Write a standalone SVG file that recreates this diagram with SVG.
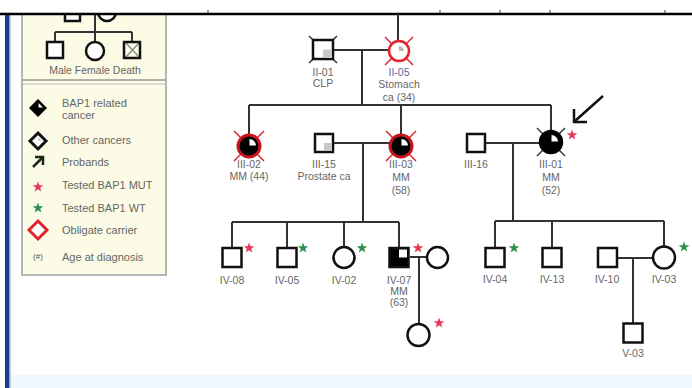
<svg xmlns="http://www.w3.org/2000/svg" xmlns:xlink="http://www.w3.org/1999/xlink" width="692" height="388" viewBox="0 0 692 388">
<style>
.ln{stroke:#333;stroke-width:2;fill:none}
.sym{stroke:#111;stroke-width:2.5;fill:#fff}
.dx{stroke:#333;stroke-width:1.5}
.dr{stroke:#d8202a;stroke-width:1.5}
.lbl{font-family:"Liberation Sans",Arial,sans-serif;font-size:10.5px;fill:#666;text-anchor:middle}
.leg{font-family:"Liberation Sans",Arial,sans-serif;font-size:11px;fill:#666}
.red{fill:#e8375a}
.grn{fill:#2f8f4f}
</style>
<defs>
<polygon id="star" points="0,-5.5 1.35,-1.86 5.23,-1.7 2.19,0.71 3.23,4.45 0,2.3 -3.23,4.45 -2.19,0.71 -5.23,-1.7 -1.35,-1.86"/>
</defs>
<rect width="692" height="388" fill="#fff"/>
<rect x="9" y="375" width="683" height="13" fill="#eef9fd"/>
<rect x="5" y="14" width="4" height="374" fill="#1c3c8c"/>
<rect x="9" y="14" width="1.5" height="374" fill="#8aa4d0"/>

<g id="legend">
  <rect x="22" y="13" width="144" height="262" fill="#fbfbe6" stroke="#a0a0a0" stroke-width="1.5"/>
  <line x1="22" y1="80" x2="166" y2="80" stroke="#999" stroke-width="1.5"/>
  <line x1="22" y1="84" x2="166" y2="84" stroke="#bbb" stroke-width="1"/>
  <rect x="65" y="4" width="15" height="17" class="sym"/>
  <circle cx="107" cy="12" r="9" class="sym"/>
  <line x1="95" y1="13" x2="95" y2="32" class="ln"/>
  <line x1="55" y1="32" x2="132" y2="32" class="ln"/>
  <line x1="55" y1="32" x2="55" y2="42" class="ln"/>
  <line x1="95" y1="32" x2="95" y2="42" class="ln"/>
  <line x1="132" y1="32" x2="132" y2="42" class="ln"/>
  <rect x="47" y="42" width="16" height="16" class="sym"/>
  <circle cx="95" cy="51" r="9" class="sym"/>
  <line x1="125" y1="42" x2="140" y2="58" stroke="#888" stroke-width="1.2"/>
  <line x1="140" y1="42" x2="125" y2="58" stroke="#888" stroke-width="1.2"/>
  <rect x="124" y="42" width="16" height="16" fill="none" stroke="#111" stroke-width="2.5"/>
  <text x="95" y="74" class="lbl">Male Female Death</text>
  <polygon points="38,99 47,108 38,117 29,108" fill="#000"/>
  <polygon points="38.5,103 43,107.5 38.5,107.5" fill="#fff"/>
  <text x="62" y="107" class="leg">BAP1 related</text>
  <text x="62" y="119" class="leg">cancer</text>
  <polygon points="38,133 46,141 38,149 30,141" fill="#fff" stroke="#111" stroke-width="3"/>
  <polygon points="38,137 42,141 38,141" fill="#ccc"/>
  <text x="62" y="144" class="leg">Other cancers</text>
  <line x1="33" y1="167" x2="43" y2="157" stroke="#1a2a1a" stroke-width="2.5"/>
  <polyline points="35,157 43,157 43,165" fill="none" stroke="#1a2a1a" stroke-width="2.5"/>
  <text x="62" y="166" class="leg">Probands</text>
  <use xlink:href="#star" href="#star" x="38" y="187" class="red"/>
  <text x="62" y="189" class="leg">Tested BAP1 MUT</text>
  <use xlink:href="#star" href="#star" x="38" y="208" class="grn"/>
  <text x="62" y="212" class="leg">Tested BAP1 WT</text>
  <polygon points="38,221 47,230 38,239 29,230" fill="#fff" stroke="#e0242a" stroke-width="3"/>
  <text x="62" y="234" class="leg">Obligate carrier</text>
  <text x="38" y="259" font-family="Liberation Sans, Arial, sans-serif" font-size="8" fill="#555" text-anchor="middle">(#)</text>
  <text x="62" y="261" class="leg">Age at diagnosis</text>
</g>

<rect x="0" y="0" width="692" height="13" fill="#fff"/>
<line x1="0" y1="14" x2="692" y2="14" stroke="#000" stroke-width="2.5"/>
<g stroke="#555" stroke-width="1.2">
  <line x1="208" y1="10" x2="208" y2="13"/>
  <line x1="440" y1="10" x2="440" y2="13"/>
  <line x1="500" y1="10" x2="500" y2="13"/>
  <line x1="550" y1="10" x2="550" y2="13"/>
  <line x1="665" y1="10" x2="665" y2="13"/>
</g>

<g id="connectors" class="ln">
  <line x1="398" y1="14" x2="398" y2="41"/>
  <line x1="333" y1="50" x2="389" y2="50"/>
  <line x1="362" y1="50" x2="362" y2="105"/>
  <line x1="249" y1="105" x2="551" y2="105"/>
  <line x1="249" y1="105" x2="249" y2="135"/>
  <line x1="401" y1="105" x2="401" y2="135"/>
  <line x1="551" y1="105" x2="551" y2="131"/>
  <line x1="333" y1="143" x2="390" y2="143"/>
  <line x1="363" y1="143" x2="363" y2="222"/>
  <line x1="232" y1="222" x2="399" y2="222"/>
  <line x1="232" y1="222" x2="232" y2="248"/>
  <line x1="287" y1="222" x2="287" y2="248"/>
  <line x1="344" y1="222" x2="344" y2="247"/>
  <line x1="399" y1="222" x2="399" y2="248"/>
  <line x1="410" y1="257" x2="427" y2="257"/>
  <line x1="419" y1="257" x2="419" y2="324"/>
  <line x1="485" y1="143" x2="540" y2="143"/>
  <line x1="513" y1="143" x2="513" y2="221"/>
  <line x1="495" y1="221" x2="664" y2="221"/>
  <line x1="495" y1="221" x2="495" y2="248"/>
  <line x1="552" y1="221" x2="552" y2="248"/>
  <line x1="664" y1="221" x2="664" y2="246"/>
  <line x1="617" y1="258" x2="653" y2="258"/>
  <line x1="633" y1="258" x2="633" y2="323"/>
  <line x1="603" y1="96" x2="575" y2="121" stroke="#111" stroke-width="2.5"/>
  <polyline points="574,109 574,122 587,122" stroke="#111" stroke-width="2.5"/>
</g>

<g id="II-01">
  <line x1="309" y1="36" x2="337" y2="63" class="dx"/>
  <line x1="337" y1="36" x2="309" y2="63" class="dx"/>
  <rect x="313" y="40" width="20" height="19" class="sym"/>
  <rect x="323" y="49.5" width="9" height="8.5" fill="#c8c8c8"/>
  <text x="323" y="76" class="lbl">II-01</text>
  <text x="323" y="87" class="lbl">CLP</text>
</g>
<g id="II-05">
  <line x1="385" y1="37" x2="413" y2="65" class="dr"/>
  <line x1="413" y1="37" x2="385" y2="65" class="dr"/>
  <circle cx="399" cy="51" r="10" fill="#fff" stroke="#e0242a" stroke-width="2.5"/>
  <path d="M399,51 L399,46 A5,5 0 0 1 404,51 Z" fill="#bbb"/>
  <text x="399" y="76" class="lbl" style="fill:#5a6a9a">II-05</text>
  <text x="399" y="88" class="lbl">Stomach</text>
  <text x="399" y="101" class="lbl">ca (34)</text>
</g>

<g id="III-02">
  <line x1="234" y1="131" x2="264" y2="161" class="dr"/>
  <line x1="264" y1="131" x2="234" y2="161" class="dr"/>
  <circle cx="249" cy="146" r="11" fill="#000" stroke="#c8141c" stroke-width="3"/>
  <path d="M249.5,145.5 L249.5,139 A6.5,6.5 0 0 1 256,145.5 Z" fill="#fff"/>
  <text x="249" y="168" class="lbl">III-02</text>
  <text x="249" y="180" class="lbl">MM (44)</text>
</g>
<g id="III-15">
  <rect x="315" y="134" width="18" height="18" class="sym"/>
  <rect x="324" y="143" width="8" height="8" fill="#c8c8c8"/>
  <text x="324" y="168" class="lbl">III-15</text>
  <text x="324" y="180" class="lbl">Prostate ca</text>
</g>
<g id="III-03">
  <line x1="386" y1="131" x2="416" y2="161" class="dr"/>
  <line x1="416" y1="131" x2="386" y2="161" class="dr"/>
  <circle cx="401" cy="146" r="11" fill="#000" stroke="#c8141c" stroke-width="3"/>
  <path d="M401.5,145.5 L401.5,139 A6.5,6.5 0 0 1 408,145.5 Z" fill="#fff"/>
  <text x="401" y="168" class="lbl">III-03</text>
  <text x="401" y="181" class="lbl">MM</text>
  <text x="401" y="194" class="lbl">(58)</text>
</g>
<g id="III-16">
  <rect x="467" y="134" width="18" height="18" class="sym"/>
  <text x="476" y="168" class="lbl">III-16</text>
</g>
<g id="III-01">
  <line x1="537" y1="128" x2="565" y2="156" class="dx"/>
  <line x1="565" y1="128" x2="537" y2="156" class="dx"/>
  <circle cx="551" cy="142" r="11" fill="#000" stroke="#000" stroke-width="2.5"/>
  <path d="M551.5,141.5 L551.5,135 A6.5,6.5 0 0 1 558,141.5 Z" fill="#fff"/>
  <use xlink:href="#star" href="#star" x="572" y="135" class="red"/>
  <text x="551" y="168" class="lbl">III-01</text>
  <text x="551" y="181" class="lbl">MM</text>
  <text x="551" y="194" class="lbl">(52)</text>
</g>

<g id="IV-08">
  <rect x="222.5" y="248" width="19" height="19" class="sym"/>
  <use xlink:href="#star" href="#star" x="249" y="248" class="red"/>
  <text x="232" y="284" class="lbl">IV-08</text>
</g>
<g id="IV-05">
  <rect x="277.5" y="248" width="19" height="19" class="sym"/>
  <use xlink:href="#star" href="#star" x="303" y="248" class="grn"/>
  <text x="287" y="284" class="lbl">IV-05</text>
</g>
<g id="IV-02">
  <circle cx="344" cy="257.5" r="10.5" class="sym"/>
  <use xlink:href="#star" href="#star" x="362" y="248" class="grn"/>
  <text x="344" y="284" class="lbl">IV-02</text>
</g>
<g id="IV-07">
  <rect x="389.5" y="248" width="19" height="19" fill="#000" stroke="#111" stroke-width="2.5"/>
  <rect x="399" y="249.5" width="8" height="8" fill="#fff"/>
  <use xlink:href="#star" href="#star" x="418" y="248" class="red"/>
  <text x="399" y="284" class="lbl">IV-07</text>
  <text x="399" y="295" class="lbl">MM</text>
  <text x="399" y="306" class="lbl">(63)</text>
</g>
<g id="IV-07-spouse">
  <circle cx="437.5" cy="257.5" r="10.5" class="sym"/>
</g>
<g id="V-child">
  <circle cx="418.5" cy="335" r="11" class="sym"/>
  <use xlink:href="#star" href="#star" x="439" y="323" class="red"/>
</g>
<g id="IV-04">
  <rect x="485.5" y="248" width="19" height="19" class="sym"/>
  <use xlink:href="#star" href="#star" x="514" y="248" class="grn"/>
  <text x="495" y="283" class="lbl">IV-04</text>
</g>
<g id="IV-13">
  <rect x="542.5" y="248" width="19" height="19" class="sym"/>
  <text x="552" y="283" class="lbl">IV-13</text>
</g>
<g id="IV-10">
  <rect x="598" y="248" width="19" height="19" class="sym"/>
  <text x="607" y="283" class="lbl">IV-10</text>
</g>
<g id="IV-03">
  <circle cx="664" cy="257.5" r="11" class="sym"/>
  <use xlink:href="#star" href="#star" x="684" y="247" class="grn"/>
  <text x="664" y="283" class="lbl">IV-03</text>
</g>
<g id="V-03">
  <rect x="623.5" y="323.5" width="19" height="19" class="sym"/>
  <text x="633" y="357" class="lbl">V-03</text>
</g>
</svg>
